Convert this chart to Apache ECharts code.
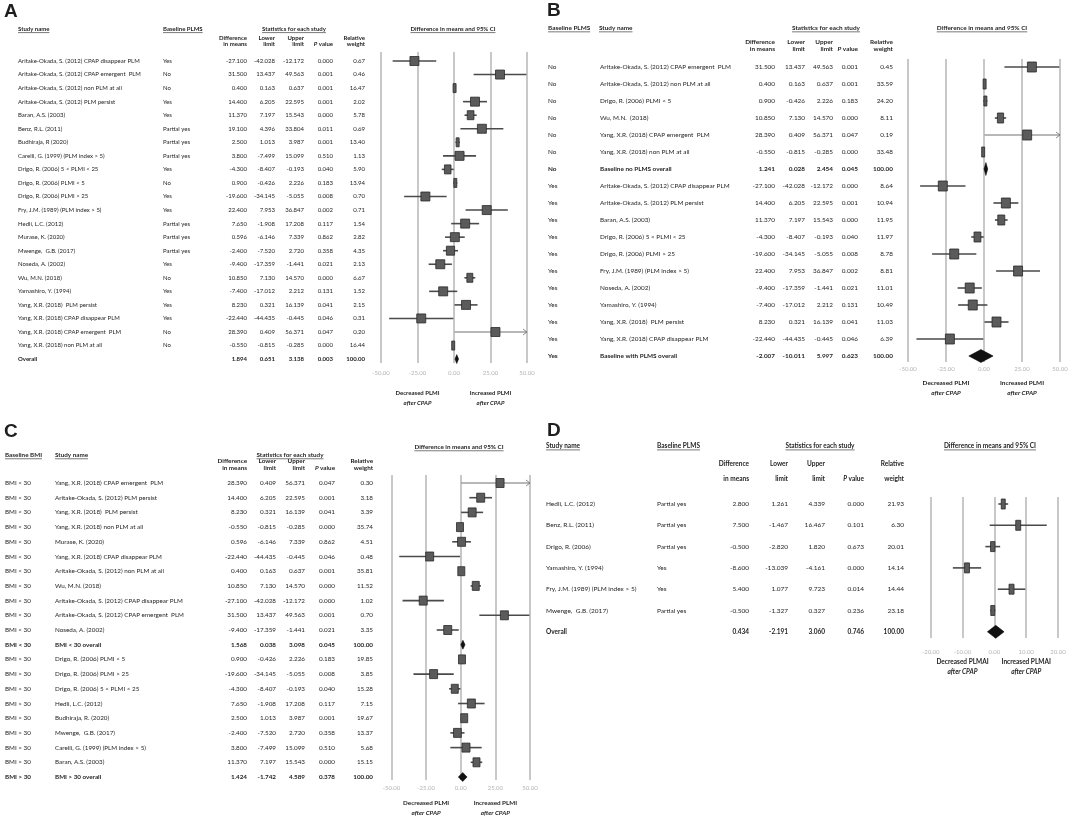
<!DOCTYPE html>
<html>
<head>
<meta charset="utf-8">
<title>Forest plots</title>
<script src="https://cdn.jsdelivr.net/npm/echarts@6/dist/echarts.min.js"></script>
<style>html,body{margin:0;background:#fff;}</style>
</head>
<body>
<div id="main" style="width:1084px;height:821px;"></div>
<script>
// ---- panel A: all studies ----
const A_STUDY = [
  'Aritake-Okada, S. (2012) CPAP disappear PLM', 'Aritake-Okada, S. (2012) CPAP emergent  PLM',
  'Aritake-Okada, S. (2012) non PLM at all', 'Aritake-Okada, S. (2012) PLM persist',
  'Baran, A.S. (2003)', 'Benz, R.L. (2011)', 'Budhiraja, R (2020)', 'Carelli, G. (1999) (PLM index > 5)',
  'Drigo, R. (2006) 5 < PLMI < 25', 'Drigo, R. (2006) PLMI < 5', 'Drigo, R. (2006) PLMI > 25',
  'Fry, J.M. (1989) (PLM index > 5)', 'Hedli, L.C. (2012)', 'Murase, K. (2020)', 'Mwenge,  G.B. (2017)',
  'Noseda, A. (2002)', 'Wu, M.N. (2018)', 'Yamashiro, Y. (1994)', 'Yang, X.R. (2018)  PLM persist',
  'Yang, X.R. (2018) CPAP disappear PLM', 'Yang, X.R. (2018) CPAP emergent  PLM',
  'Yang, X.R. (2018) non PLM at all', 'Overall'
];
const A_BASE = ['Yes', 'No', 'No', 'Yes', 'Yes', 'Partial yes', 'Partial yes', 'Partial yes', 'Yes', 'No', 'Yes',
  'Yes', 'Partial yes', 'Partial yes', 'Partial yes', 'Yes', 'No', 'Yes', 'Yes', 'Yes', 'No', 'No', ''];
const A_DIFF = [-27.1, 31.5, 0.4, 14.4, 11.37, 19.1, 2.5, 3.8, -4.3, 0.9, -19.6, 22.4, 7.65, 0.596, -2.4, -9.4, 10.85, -7.4, 8.23, -22.44, 28.39, -0.55, 1.894];
const A_LOWER = [-42.028, 13.437, 0.163, 6.205, 7.197, 4.396, 1.013, -7.499, -8.407, -0.426, -34.145, 7.953, -1.908, -6.146, -7.52, -17.359, 7.13, -17.012, 0.321, -44.435, 0.409, -0.815, 0.651];
const A_UPPER = [-12.172, 49.563, 0.637, 22.595, 15.543, 33.804, 3.987, 15.099, -0.193, 2.226, -5.055, 36.847, 17.208, 7.339, 2.72, -1.441, 14.57, 2.212, 16.139, -0.445, 56.371, -0.285, 3.138];
const A_P = [0.000, 0.001, 0.001, 0.001, 0.000, 0.011, 0.001, 0.510, 0.040, 0.183, 0.008, 0.002, 0.117, 0.862, 0.358, 0.021, 0.000, 0.131, 0.041, 0.046, 0.047, 0.000, 0.003];
const A_WEIGHT = [0.67, 0.46, 16.47, 2.02, 5.78, 0.69, 13.40, 1.13, 5.90, 13.94, 0.70, 0.71, 1.54, 2.82, 4.35, 2.13, 6.67, 1.52, 2.15, 0.31, 0.20, 16.44, 100.00];

// ---- panel B: by baseline PLMS ----
const B_BASE = ['No', 'No', 'No', 'No', 'No', 'No', 'No', 'Yes', 'Yes', 'Yes', 'Yes', 'Yes', 'Yes', 'Yes', 'Yes', 'Yes', 'Yes', 'Yes'];
const B_STUDY = [
  'Aritake-Okada, S. (2012) CPAP emergent  PLM', 'Aritake-Okada, S. (2012) non PLM at all',
  'Drigo, R. (2006) PLMI < 5', 'Wu, M.N.  (2018)', 'Yang, X.R. (2018) CPAP emergent  PLM',
  'Yang, X.R. (2018) non PLM at all', 'Baseline no PLMS overall',
  'Aritake-Okada, S. (2012) CPAP disappear PLM', 'Aritake-Okada, S. (2012) PLM persist', 'Baran, A.S. (2003)',
  'Drigo, R. (2006) 5 < PLMI < 25', 'Drigo, R. (2006) PLMI > 25', 'Fry, J.M. (1989) (PLM index > 5)',
  'Noseda, A. (2002)', 'Yamashiro, Y. (1994)', 'Yang, X.R. (2018)  PLM persist',
  'Yang, X.R. (2018) CPAP disappear PLM', 'Baseline with PLMS overall'
];
const B_DIFF = [31.5, 0.4, 0.9, 10.85, 28.39, -0.55, 1.241, -27.1, 14.4, 11.37, -4.3, -19.6, 22.4, -9.4, -7.4, 8.23, -22.44, -2.007];
const B_LOWER = [13.437, 0.163, -0.426, 7.13, 0.409, -0.815, 0.028, -42.028, 6.205, 7.197, -8.407, -34.145, 7.953, -17.359, -17.012, 0.321, -44.435, -10.011];
const B_UPPER = [49.563, 0.637, 2.226, 14.57, 56.371, -0.285, 2.454, -12.172, 22.595, 15.543, -0.193, -5.055, 36.847, -1.441, 2.212, 16.139, -0.445, 5.997];
const B_P = [0.001, 0.001, 0.183, 0.000, 0.047, 0.000, 0.045, 0.000, 0.001, 0.000, 0.040, 0.008, 0.002, 0.021, 0.131, 0.041, 0.046, 0.623];
const B_WEIGHT = [0.45, 33.59, 24.20, 8.11, 0.19, 33.48, 100.00, 8.64, 10.94, 11.95, 11.97, 8.78, 8.81, 11.01, 10.49, 11.03, 6.39, 100.00];

// ---- panel C: by baseline BMI ----
const C_BMI = ['BMI < 30', 'BMI < 30', 'BMI < 30', 'BMI < 30', 'BMI < 30', 'BMI < 30', 'BMI < 30', 'BMI < 30', 'BMI < 30', 'BMI < 30', 'BMI < 30', 'BMI < 30',
  'BMI > 30', 'BMI > 30', 'BMI > 30', 'BMI > 30', 'BMI > 30', 'BMI > 30', 'BMI > 30', 'BMI > 30', 'BMI > 30'];
const C_STUDY = [
  'Yang, X.R. (2018) CPAP emergent  PLM', 'Aritake-Okada, S. (2012) PLM persist', 'Yang, X.R. (2018)  PLM persist',
  'Yang, X.R. (2018) non PLM at all', 'Murase, K. (2020)', 'Yang, X.R. (2018) CPAP disappear PLM',
  'Aritake-Okada, S. (2012) non PLM at all', 'Wu, M.N. (2018)', 'Aritake-Okada, S. (2012) CPAP disappear PLM',
  'Aritake-Okada, S. (2012) CPAP emergent  PLM', 'Noseda, A. (2002)', 'BMI < 30 overall',
  'Drigo, R. (2006) PLMI < 5', 'Drigo, R. (2006) PLMI > 25', 'Drigo, R. (2006) 5 < PLMI < 25', 'Hedli, L.C. (2012)',
  'Budhiraja, R. (2020)', 'Mwenge,  G.B. (2017)', 'Carelli, G. (1999) (PLM index > 5)', 'Baran, A.S. (2003)',
  'BMI > 30 overall'
];
const C_DIFF = [28.39, 14.4, 8.23, -0.55, 0.596, -22.44, 0.4, 10.85, -27.1, 31.5, -9.4, 1.568, 0.9, -19.6, -4.3, 7.65, 2.5, -2.4, 3.8, 11.37, 1.424];
const C_LOWER = [0.409, 6.205, 0.321, -0.815, -6.146, -44.435, 0.163, 7.13, -42.028, 13.437, -17.359, 0.038, -0.426, -34.145, -8.407, -1.908, 1.013, -7.52, -7.499, 7.197, -1.742];
const C_UPPER = [56.371, 22.595, 16.139, -0.285, 7.339, -0.445, 0.637, 14.57, -12.172, 49.563, -1.441, 3.098, 2.226, -5.055, -0.193, 17.208, 3.987, 2.72, 15.099, 15.543, 4.589];
const C_P = [0.047, 0.001, 0.041, 0.000, 0.862, 0.046, 0.001, 0.000, 0.000, 0.001, 0.021, 0.045, 0.183, 0.008, 0.040, 0.117, 0.001, 0.358, 0.510, 0.000, 0.378];
const C_WEIGHT = [0.30, 3.18, 3.39, 35.74, 4.51, 0.48, 35.81, 11.52, 1.02, 0.70, 3.35, 100.00, 19.85, 3.85, 15.28, 7.15, 19.67, 13.37, 5.68, 15.15, 100.00];

// ---- panel D: PLMAI ----
const D_STUDY = ['Hedli, L.C. (2012)', 'Benz, R.L. (2011)', 'Drigo, R. (2006)', 'Yamashiro, Y. (1994)',
  'Fry, J.M. (1989) (PLM index > 5)', 'Mwenge,  G.B. (2017)', 'Overall'];
const D_BASE = ['Partial yes', 'Partial yes', 'Partial yes', 'Yes', 'Yes', 'Partial yes', ''];
const D_DIFF = [2.8, 7.5, -0.5, -8.6, 5.4, -0.5, 0.434];
const D_LOWER = [1.261, -1.467, -2.82, -13.039, 1.077, -1.327, -2.191];
const D_UPPER = [4.339, 16.467, 1.82, -4.161, 9.723, 0.327, 3.06];
const D_P = [0.000, 0.101, 0.673, 0.000, 0.014, 0.236, 0.746];
const D_WEIGHT = [21.93, 6.30, 20.01, 14.14, 14.44, 23.18, 100.00];

const FONT = 'Lato, "Open Sans", sans-serif';

const PANELS = [
  { letter: 'A', lx: 4, ly: 12, study: A_STUDY, base: A_BASE, diff: A_DIFF, lower: A_LOWER, upper: A_UPPER, p: A_P, w: A_WEIGHT,
    fs: 6, left: 381, right: 527, top: 52, bottom: 363, row0: 61, rowH: 13.55, min: -50, max: 50, step: 25, tickY: 373,
    col: { study: 18, base: 163, diff: 247, lower: 275, upper: 304, p: 333, w: 365 },
    box: { h: 9, minW: 3, maxW: 9, k: 0.55 }, diamondH: 9,
    hdrY: 29, sub1: 38, sub2: 44, heads: [['Study name', 18, 'left'], ['Baseline PLMS', 163, 'left'], ['Statistics for each study', 294, 'center']],
    plotTitle: [453, 29], cap: ['Decreased PLMI', 'Increased PLMI'], capV: 25, capY: [393, 403] },
  { letter: 'B', lx: 547, ly: 11, study: B_STUDY, base: B_BASE, diff: B_DIFF, lower: B_LOWER, upper: B_UPPER, p: B_P, w: B_WEIGHT,
    fs: 6.4, left: 908, right: 1060, top: 59, bottom: 362, row0: 67, rowH: 17.0, min: -50, max: 50, step: 25, tickY: 369,
    col: { study: 600, base: 548, diff: 775, lower: 805, upper: 833, p: 858, w: 893 },
    box: { h: 10, minW: 3, maxW: 9, k: 0.55 }, diamondH: 13,
    hdrY: 28, sub1: 42, sub2: 49, heads: [['Baseline PLMS', 548, 'left'], ['Study name', 599, 'left'], ['Statistics for each study', 826, 'center']],
    plotTitle: [982, 28], cap: ['Decreased PLMI', 'Increased PLMI'], capV: 25, capY: [383, 393] },
  { letter: 'C', lx: 4, ly: 432, study: C_STUDY, base: C_BMI, diff: C_DIFF, lower: C_LOWER, upper: C_UPPER, p: C_P, w: C_WEIGHT,
    fs: 6.3, left: 391.5, right: 530, top: 475, bottom: 780, row0: 483, rowH: 14.7, min: -50, max: 50, step: 25, tickY: 788,
    col: { study: 55, base: 5, diff: 247, lower: 276, upper: 305, p: 335, w: 373 },
    box: { h: 9, minW: 7, maxW: 8, k: 0.55 }, diamondH: 9,
    hdrY: 455, sub1: 461, sub2: 468, heads: [['Baseline BMI', 5, 'left'], ['Study name', 55, 'left'], ['Statistics for each study', 290, 'center']],
    plotTitle: [459, 447], cap: ['Decreased PLMI', 'Increased PLMI'], capV: 25, capY: [803, 813] },
  { letter: 'D', lx: 547, ly: 431, study: D_STUDY, base: D_BASE, diff: D_DIFF, lower: D_LOWER, upper: D_UPPER, p: D_P, w: D_WEIGHT,
    fs: 6.5, left: 930.7, right: 1058, top: 497, bottom: 638, row0: 504, rowH: 21.3, min: -20, max: 20, step: 10, tickY: 652,
    col: { study: 546, base: 657, diff: 749, lower: 788, upper: 825, p: 864, w: 904 },
    box: { h: 10, minW: 4, maxW: 5, k: 0.3 }, diamondH: 13,
    hdrY: 446, sub1: 464, sub2: 479, heads: [['Study name', 546, 'left'], ['Baseline PLMS', 657, 'left'], ['Statistics for each study', 820, 'center']],
    plotTitle: [990, 446], cap: ['Decreased PLMAI', 'Increased PLMAI'], capV: 10, capY: [662, 672] }
];

const measureCtx = document.createElement('canvas').getContext('2d');
function textWidth(t, fs, bold) {
  measureCtx.font = (bold ? 'bold ' : '') + fs + 'px ' + FONT;
  return measureCtx.measureText(t).width;
}
function fmt(v, d) { return v == null ? '' : v.toFixed(d); }

const graphic = [];
function txt(t, x, y, o) {
  o = o || {};
  const fs = o.fs || 6.5, bold = o.bold !== false;
  graphic.push({
    type: 'text', x: x, y: y, silent: true,
    style: {
      text: t, fontSize: fs, fontWeight: bold ? 'bold' : 'normal', fontStyle: o.italic ? 'italic' : 'normal',
      fontFamily: o.family || FONT, fill: '#1e1e1e', align: o.align || 'left', verticalAlign: 'middle', rich: o.rich
    }
  });
  if (o.ul) {
    const w = textWidth(t, fs, bold);
    const x0 = o.align === 'center' ? x - w / 2 : (o.align === 'right' ? x - w : x);
    graphic.push({ type: 'line', silent: true, shape: { x1: x0, y1: y + fs * 0.6, x2: x0 + w, y2: y + fs * 0.6 },
      style: { stroke: '#1e1e1e', lineWidth: 0.6 } });
  }
}

const grids = [], xAxes = [], yAxes = [], series = [];

PANELS.forEach(function (P, gi) {
  const total = P.study.map(s => /overall/i.test(s));
  const fs = P.fs;

  // headers
  txt(P.letter, P.lx, P.ly, { fs: 19, family: '"Liberation Sans", Arial, sans-serif' });
  P.heads.forEach(h => txt(h[0], h[1], P.hdrY, { fs: fs, align: h[2], ul: true }));
  txt('Difference in means and 95% CI', P.plotTitle[0], P.plotTitle[1], { fs: fs, align: 'center', ul: true });
  txt('Difference', P.col.diff, P.sub1, { fs: fs, align: 'right' });
  txt('in means', P.col.diff, P.sub2, { fs: fs, align: 'right' });
  txt('Lower', P.col.lower, P.sub1, { fs: fs, align: 'right' });
  txt('limit', P.col.lower, P.sub2, { fs: fs, align: 'right' });
  txt('Upper', P.col.upper, P.sub1, { fs: fs, align: 'right' });
  txt('limit', P.col.upper, P.sub2, { fs: fs, align: 'right' });
  txt('{i|P} value', P.col.p, P.sub2, { fs: fs, align: 'right',
    rich: { i: { fontStyle: 'italic', fontWeight: 'bold', fontSize: fs, fontFamily: FONT, fill: '#1e1e1e' } } });
  txt('Relative', P.col.w, P.sub1, { fs: fs, align: 'right' });
  txt('weight', P.col.w, P.sub2, { fs: fs, align: 'right' });

  const span = P.right - P.left;
  const toPx = v => P.left + (v - P.min) / (P.max - P.min) * span;
  txt(P.cap[0], toPx(-P.capV), P.capY[0], { fs: fs, align: 'center' });
  txt('after CPAP', toPx(-P.capV), P.capY[1], { fs: fs, align: 'center', italic: true });
  txt(P.cap[1], toPx(P.capV), P.capY[0], { fs: fs, align: 'center' });
  txt('after CPAP', toPx(P.capV), P.capY[1], { fs: fs, align: 'center', italic: true });

  grids.push({ left: P.left, top: P.top, width: span, height: P.bottom - P.top });
  xAxes.push({
    gridIndex: gi, type: 'value', min: P.min, max: P.max, interval: P.step,
    axisLine: { show: false, onZero: false }, axisTick: { show: false },
    splitLine: { show: true, lineStyle: { color: '#c8c8c8', width: 2 } },
    axisLabel: { margin: P.tickY - P.bottom - 3, fontSize: 6, color: '#b4b4b4', fontFamily: FONT,
      formatter: v => v.toFixed(2) }
  });
  yAxes.push({
    gridIndex: gi, type: 'value', inverse: true, show: false,
    min: (P.top - P.row0) / P.rowH, max: (P.bottom - P.row0) / P.rowH
  });

  const cols = [
    { x: P.col.study, align: 'left', get: i => P.study[i] },
    { x: P.col.base, align: 'left', get: i => P.base[i] },
    { x: P.col.diff, align: 'right', get: i => fmt(P.diff[i], 3) },
    { x: P.col.lower, align: 'right', get: i => fmt(P.lower[i], 3) },
    { x: P.col.upper, align: 'right', get: i => fmt(P.upper[i], 3) },
    { x: P.col.p, align: 'right', get: i => fmt(P.p[i], 3) },
    { x: P.col.w, align: 'right', get: i => fmt(P.w[i], 2) }
  ];

  // table text, rows placed through the y axis
  series.push({
    type: 'custom', xAxisIndex: gi, yAxisIndex: gi, clip: false, silent: true,
    data: P.study.map((s, i) => [0, i]),
    renderItem: function (params, api) {
      const i = params.dataIndex;
      const y = api.coord([0, i])[1];
      return {
        type: 'group',
        children: cols.map(c => ({
          type: 'text',
          style: {
            text: c.get(i), x: c.x, y: y, align: c.align, verticalAlign: 'middle',
            fontSize: fs, fontWeight: total[i] ? 'bold' : 'normal', fontFamily: FONT, fill: '#1e1e1e'
          }
        }))
      };
    }
  });

  // effect sizes with CI
  series.push({
    type: 'custom', xAxisIndex: gi, yAxisIndex: gi, clip: false, silent: true,
    data: P.diff.map((d, i) => [d, i, P.lower[i], P.upper[i]]),
    encode: { x: 0, y: 1 },
    renderItem: function (params, api) {
      const i = api.value(1);
      const d = api.value(0), lo = api.value(2), up = api.value(3);
      const X = v => api.coord([Math.max(P.min, Math.min(P.max, v)), i])[0];
      const y = api.coord([d, i])[1];
      const xd = X(d), xl = X(lo), xu = X(up);
      const kids = [];
      if (total[i]) {
        const h = P.diamondH / 2;
        kids.push({ type: 'polygon', shape: { points: [[xl, y], [xd, y - h], [xu, y], [xd, y + h]] },
          style: { fill: '#111', stroke: '#000', lineWidth: 0.5 } });
      } else {
        const clipped = up > P.max || lo < P.min;
        kids.push({ type: 'line', shape: { x1: xl, y1: y, x2: xu, y2: y },
          style: { stroke: clipped ? '#707070' : '#4a4a4a', lineWidth: clipped ? 1 : 1.6 } });
        if (up > P.max) kids.push({ type: 'polyline', shape: { points: [[xu - 4, y - 3], [xu, y], [xu - 4, y + 3]] },
          style: { stroke: '#707070', lineWidth: 0.8, fill: 'none' } });
        if (lo < P.min) kids.push({ type: 'polyline', shape: { points: [[xl + 4, y - 3], [xl, y], [xl + 4, y + 3]] },
          style: { stroke: '#707070', lineWidth: 0.8, fill: 'none' } });
        const w = Math.max(P.box.minW, Math.min(P.box.maxW, (xu - xl) * P.box.k));
        kids.push({ type: 'rect', shape: { x: xd - w / 2, y: y - P.box.h / 2, width: w, height: P.box.h },
          style: { fill: '#5b5b5b', stroke: '#2a2a2a', lineWidth: 0.8 } });
      }
      return { type: 'group', children: kids };
    }
  });
});

const chart = echarts.init(document.getElementById('main'), null, { renderer: 'canvas' });
chart.setOption({
  backgroundColor: '#ffffff',
  animation: false,
  grid: grids,
  xAxis: xAxes,
  yAxis: yAxes,
  series: series,
  graphic: graphic
});
</script>
</body>
</html>
